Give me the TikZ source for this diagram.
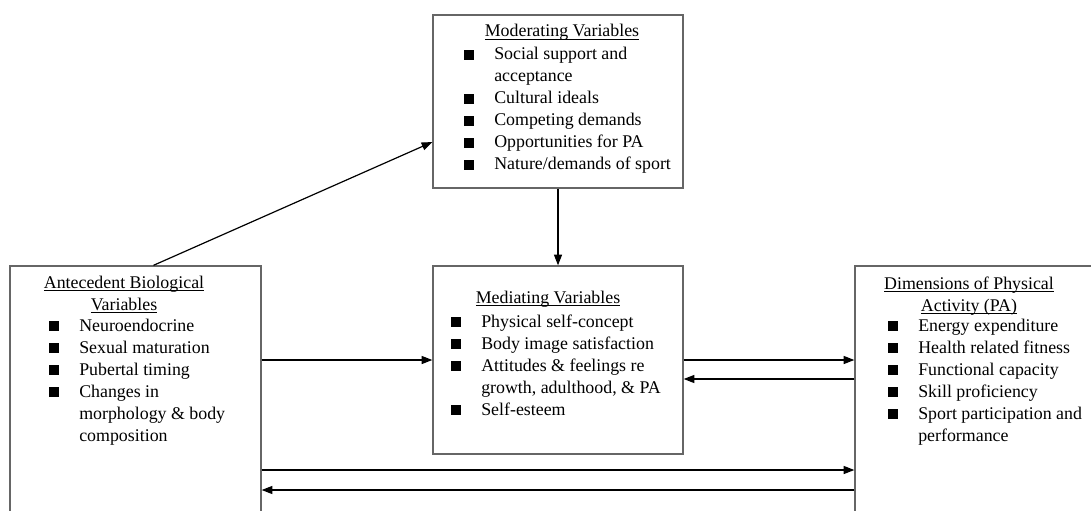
\documentclass[tikz,border=0pt]{standalone}
\usepackage{fontspec}
\setmainfont{Liberation Serif}
\usetikzlibrary{arrows.meta,positioning}
\tikzset{>={Triangle[length=8pt,width=6pt]}}
\newcommand{\sqb}{\rule{7.5pt}{7.5pt}}
\newcommand{\uln}[1]{\leavevmode\setbox0\hbox{#1}\rlap{\rule[-2.2pt]{\wd0}{0.6pt}}\box0}
\newcommand{\ttl}[1]{\begin{tabular}[t]{@{}c@{}}#1\end{tabular}}
\newcommand{\blist}[1]{\begin{tabular}[t]{@{}p{22.5pt}@{}l@{}}#1\end{tabular}}

\begin{document}
\begin{tikzpicture}[x=0.75pt,y=-0.75pt,
  box/.style={draw=black!60,line width=1pt,rectangle,inner sep=0pt},
  txt/.style={inner sep=0pt,font=\fontsize{13.4}{16.5}\selectfont},
  link/.style={->,line width=0.9pt}]
\useasboundingbox (0,0) rectangle (1091,510);
\clip (0,0) rectangle (1091,510);

%Boxes
\node[box,minimum width=250*0.75pt,minimum height=173*0.75pt] (mod) at (558,101.5) {};
\node[box,minimum width=250*0.75pt,minimum height=188*0.75pt] (med) at (558,360) {};
\node[box,minimum width=251*0.75pt,minimum height=300*0.75pt] (ante) at (135.5,416) {};
\node[box,minimum width=260*0.75pt,minimum height=300*0.75pt] (dim) at (985,416) {};

%Moderating Variables
\node[txt,anchor=base] (modT) at (562,37) {\ttl{\uln{Moderating Variables}}};
\node[txt,anchor=base west] (modL) at (464,60) {\blist{%
 \sqb & Social support and\\
      & acceptance\\
 \sqb & Cultural ideals\\
 \sqb & Competing demands\\
 \sqb & Opportunities for PA\\
 \sqb & Nature/demands of sport}};

%Mediating Variables
\node[txt,anchor=base] (medT) at (548,303) {\ttl{\uln{Mediating Variables}}};
\node[txt,anchor=base west] (medL) at (451,327) {\blist{%
 \sqb & Physical self-concept\\
 \sqb & Body image satisfaction\\
 \sqb & Attitudes \& feelings re\\
      & growth, adulthood, \& PA\\
 \sqb & Self-esteem}};

%Antecedent Biological Variables
\node[txt,anchor=base] (anteT) at (124,288) {\ttl{\uln{Antecedent Biological}\\ \uln{Variables}}};
\node[txt,anchor=base west] (anteL) at (49,331) {\blist{%
 \sqb & Neuroendocrine\\
 \sqb & Sexual maturation\\
 \sqb & Pubertal timing\\
 \sqb & Changes in\\
      & morphology \& body\\
      & composition}};

%Dimensions of Physical Activity
\node[txt,anchor=base] (dimT) at (969,289) {\ttl{\uln{Dimensions of Physical}\\ \uln{Activity (PA)}}};
\node[txt,anchor=base west] (dimL) at (888,331) {\blist{%
 \sqb & Energy expenditure\\
 \sqb & Health related fitness\\
 \sqb & Functional capacity\\
 \sqb & Skill proficiency\\
 \sqb & Sport participation and\\
      & performance}};

%Connectors
\draw[link] ([xshift=13.5pt]ante.north) -- ([yshift=-30.4pt]mod.west);
\draw[link] (mod.south) -- (med.north);
\draw[link] (ante.east |- med.west) -- (med.west);
\draw[link] (med.east) -- (med.east -| dim.west);
\coordinate (back) at ([yshift=-14.25pt]med.east);
\draw[link] (back -| dim.west) -- (back);
\draw[link] ([yshift=-40.5pt]ante.east) -- ([yshift=-40.5pt]dim.west);
\draw[link] ([yshift=-55.5pt]dim.west) -- ([yshift=-55.5pt]ante.east);
\end{tikzpicture}
\end{document}
